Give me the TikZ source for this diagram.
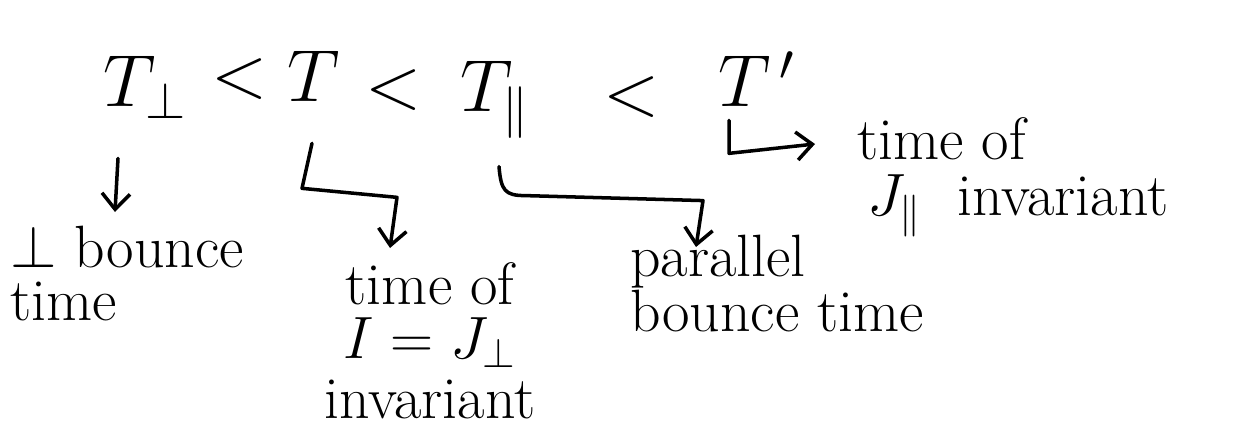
\RequirePackage{fix-cm}
\documentclass[tikz,border=0pt]{standalone}
\usepackage{fontspec}
\usetikzlibrary{arrows.meta,calc}
\tikzset{
  formula/.style={inner sep=0pt, font=\fontsize{42}{46}\selectfont},
  lbl/.style={inner sep=0pt, font=\fontsize{34}{30}\selectfont},
  conn/.style={line width=2pt, line cap=round, line join=round},
  arr/.style={conn, -{Straight Barb[length=9pt,width=16pt,line width=2pt]}}
}
\begin{document}
\begin{tikzpicture}[x=0.02cm, y=-0.02cm]
\useasboundingbox (0,0) rectangle (1256,432);
% formula
\node[formula, anchor=base west] (Tperp) at (103,107) {$T_{\perp}$};
\node[formula, anchor=center] (lt1) at (240,79) {$<$};
\node[formula, anchor=base west] (T) at (287,102) {$T$};
\node[formula, anchor=center] (lt2) at (394,90) {$<$};
\node[formula, anchor=base west] (Tpar) at (460,112) {$T_{\parallel}$};
\node[formula, anchor=center] (lt3) at (632,97) {$<$};
\node[formula, anchor=base west] (Tprime) at (718,107) {$T^{\,\prime}$};
% labels
\node[lbl, anchor=north west, align=left] (lperp) at (10,226) {$\perp$ bounce\\time};
\node[lbl, anchor=north, align=center] (lT) at (430,262) {time of\\[1pt]$I=J_{\perp}$\\[4pt]invariant};
\node[lbl, anchor=north west, align=left] (lpar) at (630,235) {parallel\\bounce time};
\node[lbl, anchor=north west, align=left] (lprime) at (857,117) {time of\\[2pt]\,$J_{\parallel}$\ \ invariant};
% connectors
\draw[arr] ($(Tperp.south west)+(15,40)$) -- ($(lperp.north west)+(105,-14)$);
\draw[arr] ($(T.south west)+(25,41)$) -- ++(-10,45) -- ++(95,9) -- ($(lT.north)+(-40,-14)$);
\draw[arr] ($(Tpar.south west)+(39,28)$) .. controls +(2,24) and +(-20,0) .. ++(26,29)
  -- ++(178,5) -- ($(lpar.north west)+(66,12)$);
\draw[arr] ($(Tprime.south west)+(11,13)$) -- ++(0,33) -- ($(lprime.north west)+(-42,27)$);
\end{tikzpicture}
\end{document}
